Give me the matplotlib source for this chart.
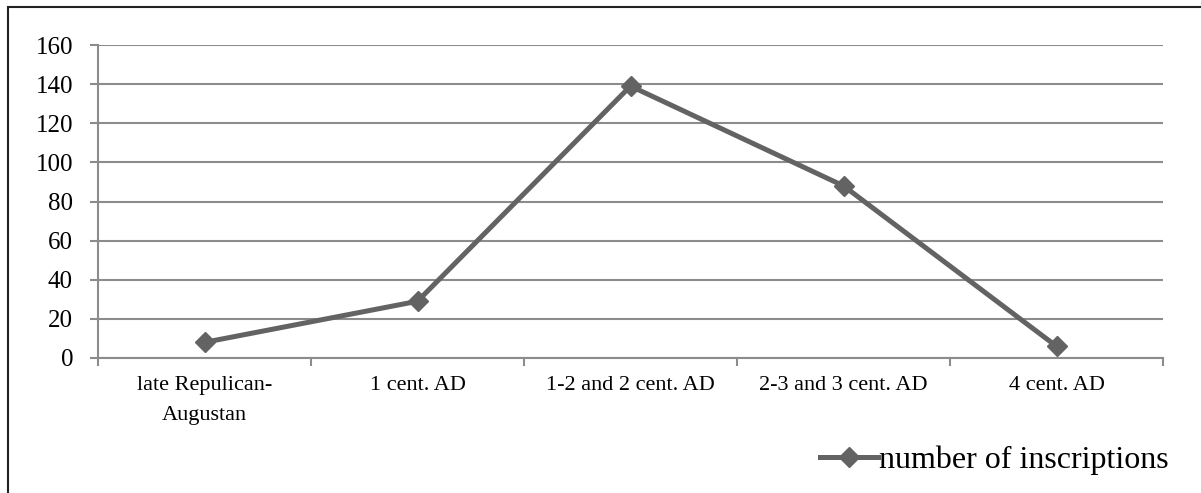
import matplotlib.pyplot as plt
from matplotlib.patches import Rectangle

periods = ['late Repulican-\nAugustan', '1 cent. AD', '1-2 and 2 cent. AD',
           '2-3 and 3 cent. AD', '4 cent. AD']
inscriptions = [8, 29, 139, 88, 6]
yticks = [0, 20, 40, 60, 80, 100, 120, 140, 160]

plt.rcParams['font.family'] = ['Liberation Serif', 'DejaVu Serif']

fig = plt.figure(figsize=(12.01, 4.93), dpi=100)
ax = fig.add_axes([98/1201, 1 - 358/493, (1163-98)/1201, (358-45)/493])

line_col = '#636363'
grid_col = '#8c8c8c'

x = range(len(periods))
ax.plot(x, inscriptions, color=line_col, lw=3.6, marker='D', ms=10,
        mfc=line_col, mec=line_col, label='number of inscriptions')

ax.set_xlim(-0.5, len(periods) - 0.5)
ax.set_ylim(0, 160)
ax.set_yticks(yticks)
ax.set_yticklabels([str(v) for v in yticks], fontsize=18)
ax.yaxis.grid(True, color=grid_col, lw=1.5)
ax.set_axisbelow(True)

ax.set_xticks(x)
ax.set_xticklabels(periods, fontsize=16, va='top', linespacing=1.75)
ax.set_xticks([i - 0.5 for i in range(len(periods) + 1)], minor=True)
ax.tick_params(axis='x', which='major', length=0, pad=13)
ax.tick_params(axis='x', which='minor', length=6, color=grid_col, width=1.5)
ax.tick_params(axis='y', length=6, color=grid_col, width=1.5, pad=12)

for s in ['top', 'right']:
    ax.spines[s].set_visible(False)
for s in ['left', 'bottom']:
    ax.spines[s].set_color(grid_col)
    ax.spines[s].set_linewidth(1.5)

ax.legend(loc='center left', bbox_to_anchor=(820/1201, 1 - 460/493),
          bbox_transform=fig.transFigure, frameon=False, fontsize=23,
          handlelength=1.8, handletextpad=0.05, borderpad=0, borderaxespad=0)

# outer frame
fig.patches.append(Rectangle((8/1201, -0.1), 1.1, 1 - 7/493 + 0.1,
                             transform=fig.transFigure, fill=False,
                             ec='#222222', lw=1.5))

fig.savefig('out.png', dpi=100)
